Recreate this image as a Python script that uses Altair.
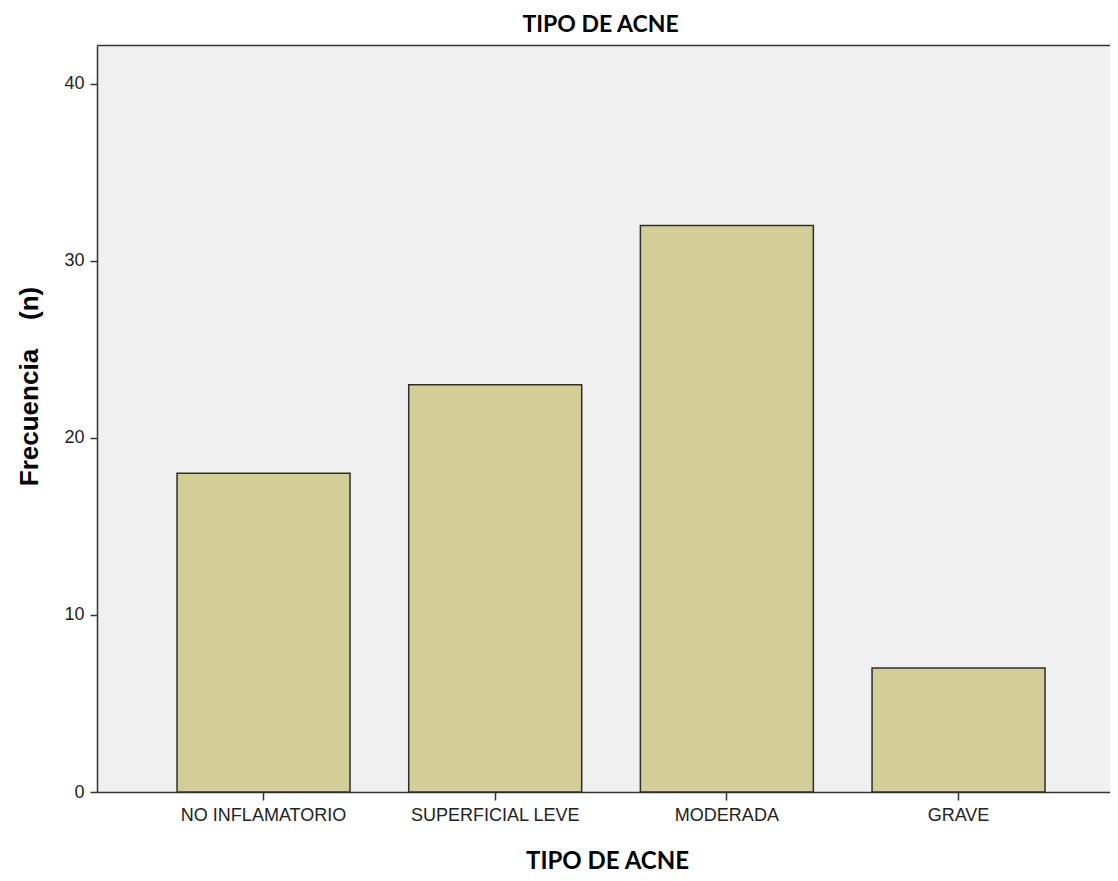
import altair as alt
import pandas as pd

categories = ["NO INFLAMATORIO", "SUPERFICIAL LEVE", "MODERADA", "GRAVE"]
frecuencia = [18, 23, 32, 7]
y_ticks = [0, 10, 20, 30, 40]

df = pd.DataFrame({"tipo": categories, "n": frecuencia})

x_scale = alt.Scale(paddingInner=0.2533, paddingOuter=0.313, align=0.552)
y_scale = alt.Scale(domain=[0, 42.2], nice=False)

bars = alt.Chart(df).mark_bar(
    color="#D3CE97", stroke="#2e2e2e", strokeWidth=1.5
).encode(
    x=alt.X(
        "tipo:N",
        sort=categories,
        scale=x_scale,
        axis=alt.Axis(
            title="TIPO DE ACNE",
            titleFont="Lato", titleFontSize=24, titleFontWeight="bold",
            titleColor="#000000", titlePadding=25, titleX=510,
            labelFont="Liberation Sans", labelFontSize=18, labelColor="#222222",
            labelAngle=0, labelPadding=6,
            tickSize=8, tickColor="#333333", tickWidth=1.5,
            domainColor="#333333", domainWidth=1.5,
        ),
    ),
    y=alt.Y(
        "n:Q",
        scale=y_scale,
        axis=alt.Axis(
            values=y_ticks, grid=False,
            title="Frecuencia\u00a0\u00a0\u00a0\u00a0(n)",
            titleFont="Liberation Sans", titleFontSize=26, titleFontWeight="bold",
            titleColor="#000000", titleX=-55, titleY=341, titleAngle=270,
            labelFont="Liberation Sans", labelFontSize=18, labelColor="#222222",
            labelPadding=6,
            tickSize=7, tickColor="#333333", tickWidth=1.5,
            domainColor="#333333", domainWidth=1.5,
        ),
    ),
)

top_line = alt.Chart(df).mark_bar(opacity=0).encode(
    x=alt.X(
        "tipo:N",
        sort=categories,
        scale=x_scale,
        axis=alt.Axis(orient="top", labels=False, ticks=False, title=None,
                      domainColor="#333333", domainWidth=1.5),
    ),
    y=alt.Y("n:Q", scale=y_scale),
)

chart = alt.layer(bars, top_line).resolve_axis(x="independent").properties(
    width=1013,
    height=747,
    padding={"left": 89, "top": 37, "right": 0, "bottom": 81},
    autosize=alt.AutoSizeParams(type="none"),
    view=alt.ViewBackground(fill="#F0F0F0", stroke=None),
    title=alt.TitleParams(
        "TIPO DE ACNE", font="Lato", fontSize=23, fontWeight="bold",
        color="#000000", anchor="middle", dx=-3, offset=8,
    ),
).configure_view(
    fill="#F0F0F0", stroke=None
).configure(background="#FFFFFF")

chart.save("out.html", embed_options={"renderer": "svg", "actions": False})
